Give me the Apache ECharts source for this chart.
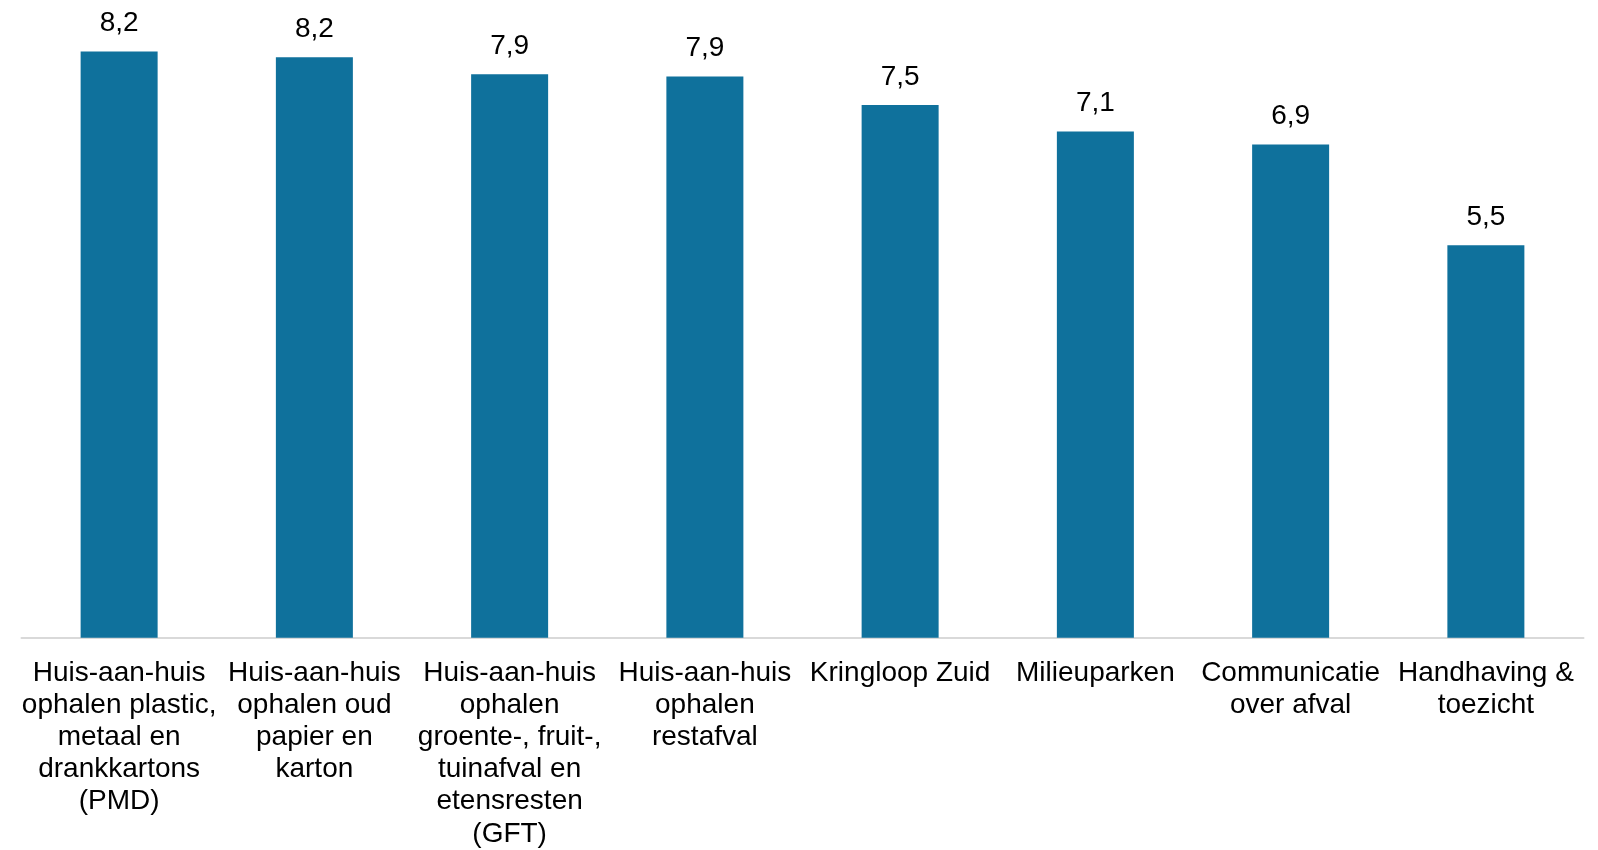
<!DOCTYPE html>
<html><head><meta charset="utf-8">
<script src="https://cdn.jsdelivr.net/npm/echarts@6/dist/echarts.min.js"></script>
<style>html,body{margin:0;padding:0;background:#fff}#c{width:1598px;height:850px}</style>
</head><body><div id="c"></div>
<script>
const categories = [
  "Huis-aan-huis\nophalen plastic,\nmetaal en\ndrankkartons\n(PMD)",
  "Huis-aan-huis\nophalen oud\npapier en\nkarton",
  "Huis-aan-huis\nophalen\ngroente-, fruit-,\ntuinafval en\netensresten\n(GFT)",
  "Huis-aan-huis\nophalen\nrestafval",
  "Kringloop Zuid",
  "Milieuparken",
  "Communicatie\nover afval",
  "Handhaving &\ntoezicht"
];
const scores = [8.2, 8.12, 7.88, 7.85, 7.45, 7.08, 6.9, 5.49];
const scoreLabels = ["8,2", "8,2", "7,9", "7,9", "7,5", "7,1", "6,9", "5,5"];

const chart = echarts.init(document.getElementById('c'));
chart.setOption({
  animation: false,
  grid: { left: 21.5, right: 14.5, top: 30, bottom: 209, containLabel: false },
  xAxis: {
    type: 'category',
    data: categories,
    axisLine: { lineStyle: { color: '#d9d9d9', width: 2 } },
    axisTick: { show: false },
    axisLabel: {
      interval: 0,
      color: '#000',
      fontFamily: 'Liberation Sans, Arial, sans-serif',
      fontSize: 28,
      lineHeight: 32.2,
      margin: 19
    }
  },
  yAxis: {
    type: 'value', min: 0, max: 8.5,
    show: false,
    splitLine: { show: false }
  },
  series: [{
    type: 'bar',
    data: scores,
    barWidth: 77,
    itemStyle: { color: '#0f719c' },
    label: {
      show: true,
      position: 'top',
      distance: 14,
      color: '#000',
      fontFamily: 'Liberation Sans, Arial, sans-serif',
      fontSize: 28,
      formatter: p => scoreLabels[p.dataIndex]
    }
  }]
});
</script></body></html>
